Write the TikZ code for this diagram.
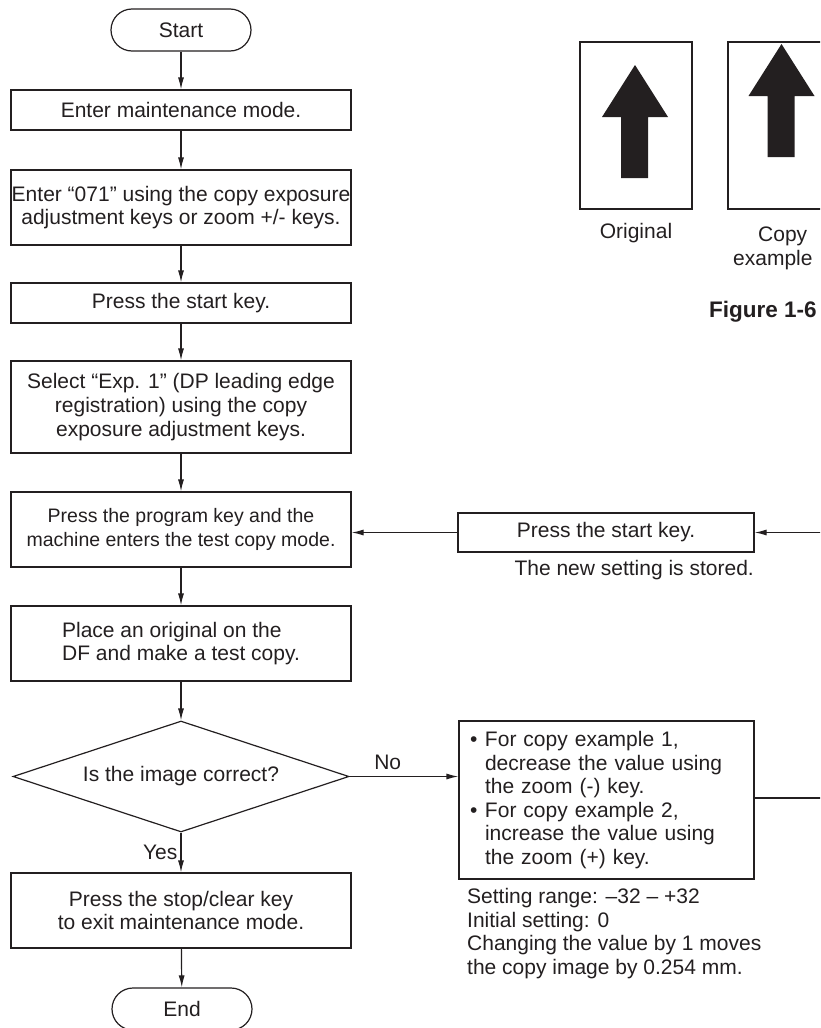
\documentclass[tikz,border=0pt]{standalone}
\usepackage{fontspec}
\setmainfont{Liberation Sans}
\usepackage{xcolor}
\usepackage{tikz}
\usetikzlibrary{arrows.meta,shapes.geometric}
\definecolor{ink}{RGB}{35, 31, 32}

\tikzset{
  box/.style={draw=ink,line width=1.2pt,minimum width=340pt,minimum height=40pt,inner sep=0pt,align=center},
  term/.style={draw=ink,line width=1.2pt,rounded corners=21pt,minimum width=140pt,minimum height=42pt},
  decision/.style={draw=ink,diamond,aspect=3,line width=1.2pt,minimum width=336pt,minimum height=111pt,inner sep=0pt},
  flow/.style={draw=ink,line width=1.2pt,-{Latex[length=12pt,width=6pt]}},
  sheet/.style={draw=ink,line width=1.2pt}
}

\begin{document}
\begin{tikzpicture}[x=1pt,y=-1pt,every node/.style={text=ink,font=\fontsize{21}{23.6}\selectfont}]
\path[use as bounding box,clip] (0,0) rectangle (820,1028);
% main flow
\node[term] (start) at (181,30) {Start};
\node[box] (enter) at (181,110) {Enter maintenance mode.};
\node[box,minimum height=75pt] (code) at (181,207.5) {Enter “071” using the copy exposure\\adjustment keys or zoom +/- keys.};
\node[box] (press) at (181,303) {Press the start key.};
\node[box,minimum height=92pt] (select) at (181,407) {Select “Exp. 1” (DP leading edge\\registration) using the copy\\exposure adjustment keys.};
\node[box,minimum height=75pt,font=\fontsize{19.5}{23.6}\selectfont] (prog) at (181,529.5) {Press the program key and the\\machine enters the test copy mode.};
\node[box,minimum height=75pt,align=left] (place) at (181,643.5) {Place an original on the\\DF and make a test copy.};
\node[decision] (check) at (181,776.5) {Is the image correct?};
\node[box,minimum height=75pt] (stop) at (181,910.5) {Press the stop/clear key\\to exit maintenance mode.};
\node[term] (end) at (182,1009) {End};
\foreach \a/\b in {start/enter,enter/code,code/press,press/select,select/prog,prog/place,place/check,stop/end}
  \draw[flow] (\a) -- (\b);
\draw[flow] (check.south) -- node[left,inner sep=3pt] {Yes} (stop.north);
% adjustment loop
\node[box,minimum width=295pt,minimum height=158pt,align=left,inner xsep=11pt,text width=273pt] (adjust) at (606.5,800)
  {\makebox[15pt][l]{\textbullet}For copy example 1,\\\hspace*{15pt}decrease the value using\\\hspace*{15pt}the zoom (-) key.\\
   \makebox[15pt][l]{\textbullet}For copy example 2,\\\hspace*{15pt}increase the value using\\\hspace*{15pt}the zoom (+) key.};
\node[anchor=north west,align=left,inner sep=0pt] (range) at (467,888) {Setting range: –32 – +32\\Initial setting: 0\\Changing the value by 1 moves\\the copy image by 0.254 mm.};
\node[box,minimum width=296pt,minimum height=39pt] (store) at (606,532.5) {Press the start key.};
\node[anchor=east,inner sep=0pt] (stored) at (754,570) {The new setting is stored.};
\coordinate (loopout) at (830,798);
\coordinate (loopin) at (830,532.5);
\draw[flow] (check.east) -- node[pos=0.35,above=3pt] {No} (check.east -| adjust.west);
\draw[draw=ink,line width=1.2pt] (adjust.east |- loopout) -- (loopout);
\draw[flow] (loopin) -- (store.east);
\draw[flow] (store.west) -- (store.west -| prog.east);
% original and copy sheets
\draw[sheet] (580,42) rectangle (692,209);
\draw[sheet] (728,42) rectangle (840,209);
\foreach \cx/\ty in {635/65,781.5/44}
  \fill[ink] (\cx,\ty) -- ++(33,52) -- ++(-20,0) -- ++(0,61) -- ++(-27,0) -- ++(0,-61) -- ++(-19,0) -- cycle;
\node (orig) at (636,233) {Original};
\node[anchor=north west,align=left,inner sep=0pt] (copy) at (733,227) {\hspace*{25pt}Copy\\example};
\node[anchor=west,inner sep=0pt,font=\bfseries\fontsize{22.5}{26}\selectfont] (fig) at (709,312) {Figure 1-6};
\end{tikzpicture}
\end{document}
